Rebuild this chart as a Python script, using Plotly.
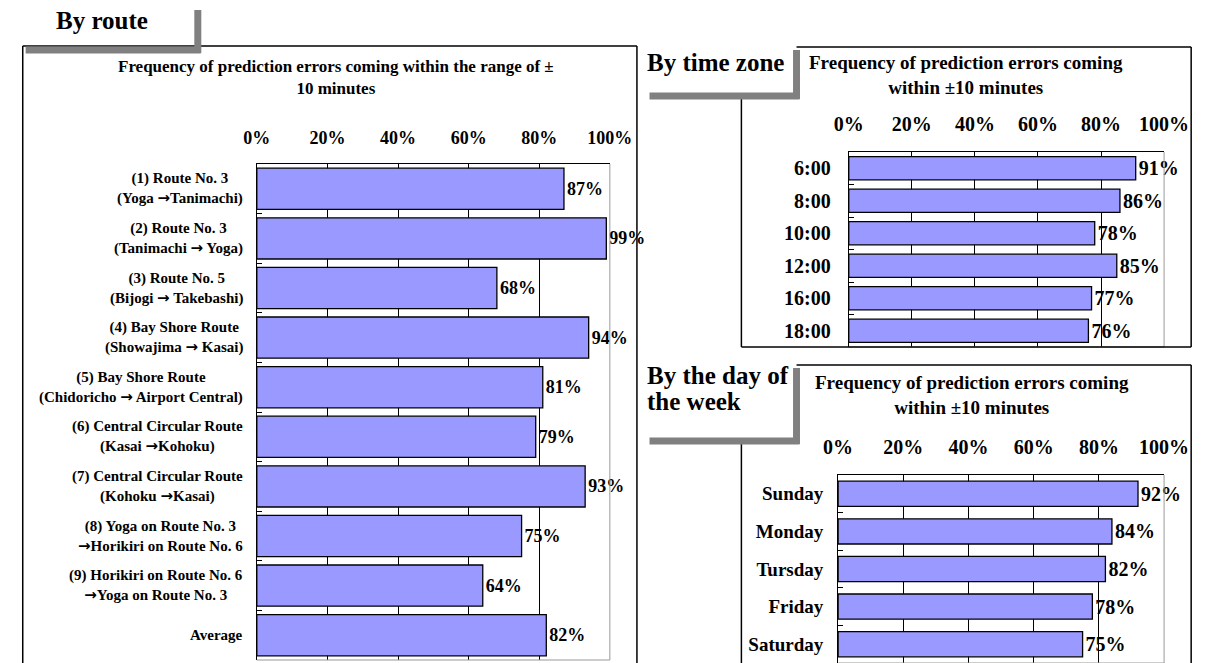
import plotly.graph_objects as go

# ── Data ───────────────────────────────────────────────────────────────────────

route_labels = [
    "(1) Route No. 3<br>(Yoga →Tanimachi)",
    "(2) Route No. 3<br>(Tanimachi → Yoga)",
    "(3) Route No. 5<br>(Bijogi → Takebashi)",
    "(4) Bay Shore Route<br>(Showajima → Kasai)",
    "(5) Bay Shore Route<br>(Chidoricho → Airport Central)",
    "(6) Central Circular Route<br>(Kasai →Kohoku)",
    "(7) Central Circular Route<br>(Kohoku →Kasai)",
    "(8) Yoga on Route No. 3<br>→Horikiri on Route No. 6",
    "(9) Horikiri on Route No. 6<br>→Yoga on Route No. 3",
    "Average",
]
route_values = [0.87, 0.99, 0.68, 0.94, 0.81, 0.79, 0.93, 0.75, 0.64, 0.82]

hour_labels = ["6:00", "8:00", "10:00", "12:00", "16:00", "18:00"]
hour_values = [0.91, 0.86, 0.78, 0.85, 0.77, 0.76]

day_labels = ["Sunday", "Monday", "Tursday", "Friday", "Saturday"]
day_values = [0.92, 0.84, 0.82, 0.78, 0.75]

pct_ticks  = [0, 0.2, 0.4, 0.6, 0.8, 1.0]
pct_labels = ["0%", "20%", "40%", "60%", "80%", "100%"]

# ── Layout helpers (pixel -> paper) ────────────────────────────────────────────

W, H = 1221, 663
FONT = "Liberation Serif"
BAR  = "#9999FF"
GREY = "#808080"
ARROW = '<span style="font-family:DejaVu Sans">→</span>'

def px(x):
    return x / W

def py(y):
    return 1 - y / H

fig = go.Figure()

panels = [
    # axis suffix, labels, values, x-domain px, y-domain px, bargap, font sizes, label gap
    ("",  route_labels, route_values, (250, 615), (164, 660), 0.17, 18, 18, 15, 14),
    ("2", hour_labels,  hour_values,  (862, 1188), (152, 347), 0.29, 20, 20, 20, 13),
    ("3", day_labels,   day_values,   (851, 1188), (475, 663), 0.33, 20, 20, 19, 10),
]

for ax, labels, values, (x0, x1), (y0, y1), gap, tick_sz, val_sz, cat_sz, stand in panels:
    fig.add_trace(go.Bar(
        x=values, y=labels, orientation="h",
        xaxis="x" + ax, yaxis="y" + ax,
        marker=dict(color=BAR, line=dict(color="black", width=1.3)),
        texttemplate="%{x:.0%}", textposition="outside",
        textfont=dict(family=FONT, size=val_sz, color="black", weight="bold"),
        constraintext="none", cliponaxis=False, showlegend=False,
        hoverinfo="skip", width=1 - gap,
    ))
    fig.update_layout(**{
        "xaxis" + ax: dict(
            domain=[px(x0), px(x1)], anchor="y" + ax, side="top",
            range=[0, 1], tickvals=pct_ticks, ticktext=pct_labels,
            tickfont=dict(family=FONT, size=tick_sz, color="black", weight="bold"),
            ticks="", ticklabelstandoff=12,
            showgrid=True, gridcolor="black", gridwidth=1,
            zeroline=False, showline=True, linecolor="black", linewidth=1,
            fixedrange=True,
        ),
        "yaxis" + ax: dict(
            domain=[py(y1), py(y0)], anchor="x" + ax,
            autorange="reversed", type="category",
            showticklabels=(ax != ""),
            tickfont=dict(family=FONT, size=cat_sz, color="black", weight="bold"),
            ticks="inside", tickson="boundaries", ticklen=5, tickcolor="black",
            ticklabelstandoff=stand,
            showline=True, linecolor="black", linewidth=1,
            showgrid=False, zeroline=False, fixedrange=True,
        ),
    })
    # light grey right / bottom plot frame
    fig.add_shape(type="line", xref="x" + ax + " domain", yref="y" + ax + " domain",
                  x0=1, x1=1, y0=0, y1=1, line=dict(color="#999999", width=1))
    fig.add_shape(type="line", xref="x" + ax + " domain", yref="y" + ax + " domain",
                  x0=0, x1=1, y0=0, y1=0, line=dict(color="#999999", width=1))

# centred two-line labels for the route chart, placed on its category axis
for lab in route_labels:
    fig.add_annotation(
        x=px(238), xref="paper", xanchor="right",
        y=lab, yref="y", yanchor="middle",
        text=lab.replace("→", ARROW), align="center", showarrow=False,
        font=dict(family=FONT, size=15, color="black", weight="bold"),
    )

# ── Frames and tabs ────────────────────────────────────────────────────────────

def line(x0, y0, x1, y1, color="black", width=1.5):
    fig.add_shape(type="line", xref="paper", yref="paper",
                  x0=px(x0), y0=py(y0), x1=px(x1), y1=py(y1),
                  line=dict(color=color, width=width))

# left box
line(8, 46, 8, 670)
line(8, 46, 643, 46)
line(643, 46, 643, 670)
# top-right box
line(808, 47, 1216, 47)
line(1216, 47, 1216, 347)
line(751, 347, 1216, 347)
line(751, 97, 751, 347)
# bottom-right box
line(808, 365, 1216, 365)
line(1216, 365, 1216, 670)
line(751, 444, 751, 670)

# grey tab shadows
line(189, 10, 189, 53, GREY, 7)
line(11, 50, 192, 50, GREY, 7)
line(808, 50, 808, 99, GREY, 7)
line(656, 96, 811, 96, GREY, 7)
line(808, 368, 808, 444, GREY, 7)
line(656, 441, 811, 441, GREY, 7)

# ── Texts ──────────────────────────────────────────────────────────────────────

def text(x, y, s, size, xanchor="left"):
    fig.add_annotation(x=px(x), y=py(y), xref="paper", yref="paper",
                       xanchor=xanchor, yanchor="middle", text=s, showarrow=False,
                       align="center",
                       font=dict(family=FONT, size=size, color="black", weight="bold"))

text(40, 20, "By route", 25)
text(651, 62, "By time zone", 25)
text(651, 375, "By the day of", 25)
text(651, 402, "the week", 25)

title_l = "Frequency of prediction errors coming within the range of ±<br>10 minutes"
title_r = "Frequency of prediction errors coming<br>within ±10 minutes"
text(332, 77, title_l, 17, "center")
text(983, 75, title_r, 19, "center")
text(989, 395, title_r, 19, "center")

fig.update_layout(
    width=W, height=H,
    margin=dict(l=0, r=0, t=0, b=0),
    paper_bgcolor="white", plot_bgcolor="white",
)

fig.write_html(
    "out.html",
    config={"displayModeBar": False},
    post_script="document.body.style.margin='0';document.body.style.overflow='hidden';",
)
